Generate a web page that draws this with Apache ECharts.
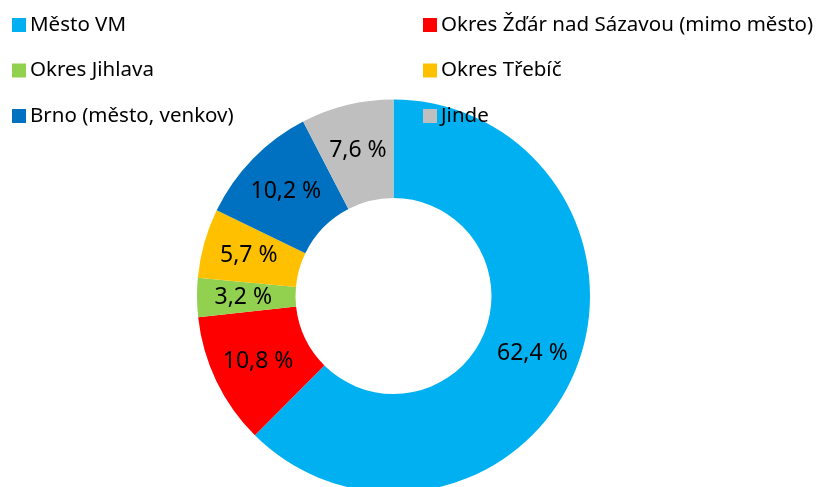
<!DOCTYPE html>
<html><head><meta charset="utf-8">
<script src="https://cdn.jsdelivr.net/npm/echarts@6/dist/echarts.min.js"></script>
<style>html,body{margin:0;padding:0;background:#fff}#c{width:831px;height:487px}</style>
</head><body><div id="c"></div>
<script>
const categories = ["Město VM","Okres Žďár nad Sázavou (mimo město)","Okres Jihlava","Okres Třebíč","Brno (město, venkov)","Jinde"];
const values = [62.4, 10.8, 3.2, 5.7, 10.2, 7.6];
const colors = ["#00B0F0","#FF0000","#92D050","#FFC000","#0070C0","#BFBFBF"];
const leftLegend = ["Město VM","Okres Jihlava","Brno (město, venkov)"];
const rightLegend = ["Okres Žďár nad Sázavou (mimo město)","Okres Třebíč","Jinde"];
const FONT = "Noto Sans";
const chart = echarts.init(document.getElementById('c'));
const legendBase = {
  orient: 'vertical', top: 14.5, padding: 0, itemWidth: 14, itemHeight: 14, itemGap: 24.5,
  icon: 'rect', selectedMode: false,
  textStyle: {fontFamily: FONT, fontSize: 20.5, color: '#000', lineHeight: 20, padding: [0,0,0,-1]}
};
chart.setOption({
  animation: false,
  color: colors,
  legend: [
    Object.assign({}, legendBase, {left: 12, data: leftLegend}),
    Object.assign({}, legendBase, {left: 423, data: rightLegend})
  ],
  series: [{
    type: 'pie',
    center: [393.5, 296],
    radius: [98, 196.5],
    startAngle: 90,
    clockwise: true,
    avoidLabelOverlap: false,
    itemStyle: {borderWidth: 0},
    label: {
      show: true, position: 'inside',
      fontFamily: FONT, fontSize: 23, color: '#000',
      formatter: p => p.value.toFixed(1).replace('.', ',') + ' %'
    },
    labelLine: {show: false},
    emphasis: {disabled: true},
    data: categories.map((n, i) => ({name: n, value: values[i]}))
  }]
});
</script></body></html>
